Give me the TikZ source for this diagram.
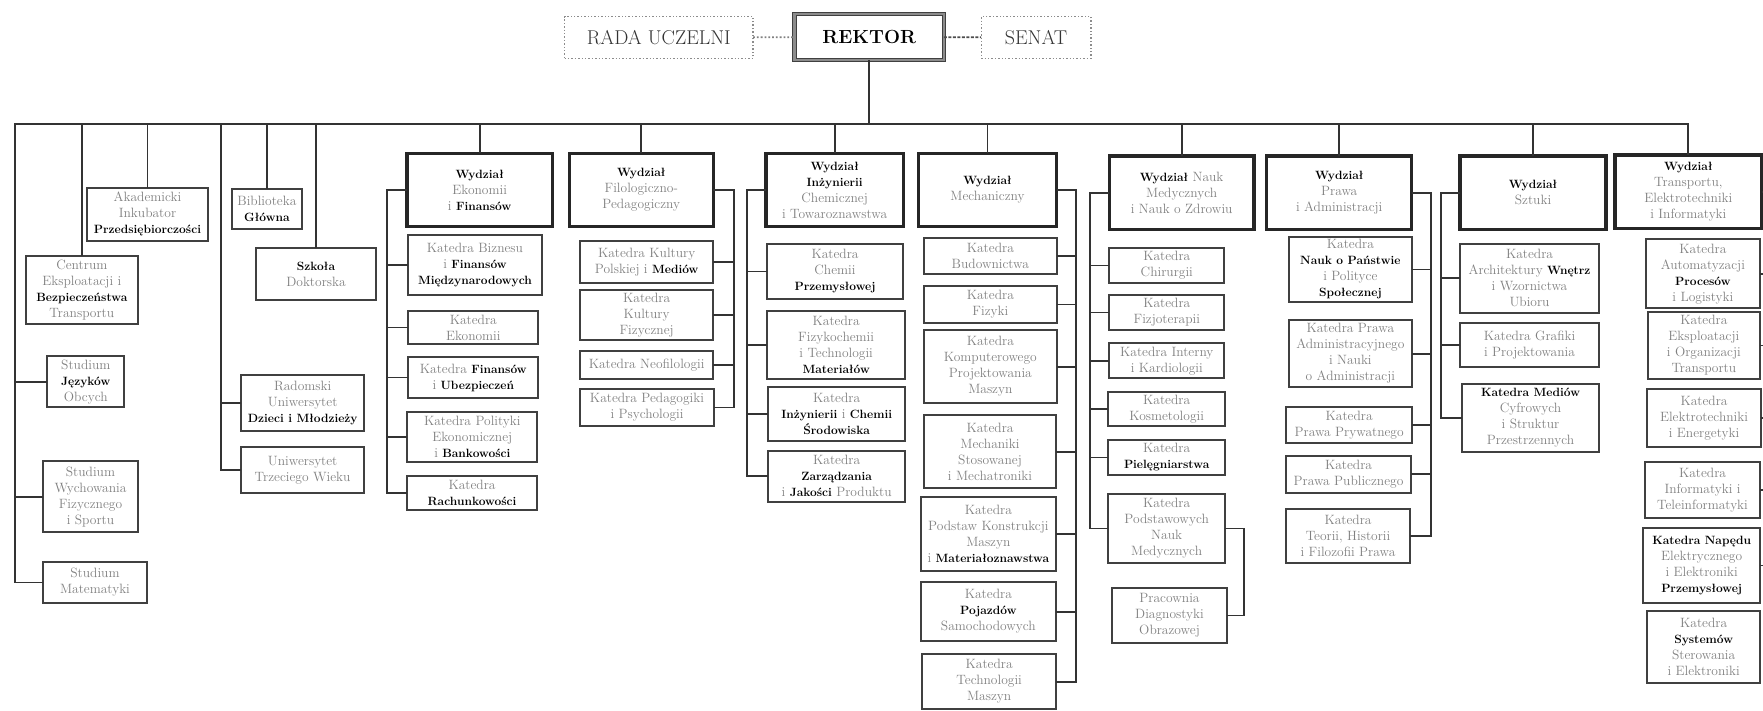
\documentclass[tikz,border=0pt]{standalone}
\usepackage{fontspec}
\usepackage{tikz}
\usepackage{xcolor}
\usetikzlibrary{math}

\newcommand{\bw}[1]{{\color{black}\fontsize{12}{16}\selectfont\bfseries #1}}
\newcommand{\orgbox}[7][kbox]{%
  \node[#1, minimum width={(#5-#3)*1pt}, minimum height={(#6-#4)*1pt}]
    (#2) at ({(#3+#5)/2},{(#4+#6)/2}) {#7};}

\tikzset{
  kbox/.style={draw=black!75, line width=2pt, align=center, inner sep=0pt, outer sep=0pt,
    text=black!50, font=\fontsize{13.5}{16}\selectfont},
  wbox/.style={kbox, draw=black!85, line width=3.2pt},
  topbox/.style={draw=black!45, dotted, line width=1.4pt, inner sep=0pt, outer sep=0pt,
    text=black!80, font=\fontsize{20}{24}\selectfont},
  rektorbox/.style={draw=black!75, double=black!45, double distance=2.4pt, line width=1pt,
    inner sep=0pt, outer sep=0pt, text=black, font=\fontsize{19}{24}\selectfont\bfseries},
  conn/.style={draw=black!80, line width=1.8pt},
}

\begin{document}
\begin{tikzpicture}[x=1pt,y=-1pt]

\tikzmath{
\busy = 124;
\busleft = 15;
\rspine = 221;
\ekspine = 387.3;
\fpspine = 734.3;
\icspine = 747.2;
\mspine = 1076;
\nmspine = 1090;
\paspine = 1431;
\szspine = 1440.7;
\trspine = 1768;
}

\useasboundingbox (0,0) rectangle (1763,711);
\clip (0,0) rectangle (1763,711);

\coordinate (busL) at (\busleft,\busy);
\coordinate (sr) at (\rspine,\busy);
\coordinate (sek) at (\ekspine,0);
\coordinate (sfp) at (\fpspine,0);
\coordinate (sic) at (\icspine,0);
\coordinate (sm) at (\mspine,0);
\coordinate (snm) at (\nmspine,0);
\coordinate (spa) at (\paspine,0);
\coordinate (ssz) at (\szspine,0);
\coordinate (str) at (\trspine,0);

% top
\orgbox[topbox]{rada}{564.5}{16.7}{753.1}{58.3}{RADA UCZELNI}
\orgbox[rektorbox]{rektor}{794.6}{14}{943.9}{60}{REKTOR}
\orgbox[topbox]{senat}{981.2}{16.7}{1091}{58.3}{SENAT}

\draw[conn, draw=black!50, dotted] (rada) -- (rektor);
\draw[conn, draw=black!70, dashed, dash pattern=on 3pt off 1.5pt] (rektor) -- (senat);
\draw[conn] (rektor.south) -- (rektor.south |- busL);

% units outside faculties
\orgbox{akad}{87}{188}{208}{240.7}{Akademicki\\Inkubator\\\bw{Przedsiębiorczości}}
\orgbox{cent}{26}{256}{137.7}{324}{Centrum\\Eksploatacji i\\\bw{Bezpieczeństwa}\\Transportu}
\orgbox{sjo}{47.3}{356}{124.3}{407.3}{Studium\\\bw{Języków}\\Obcych}
\orgbox{swf}{43.3}{461}{137.7}{532.3}{Studium\\Wychowania\\Fizycznego\\i Sportu}
\orgbox{smat}{43.3}{561.7}{146.7}{603.3}{Studium\\Matematyki}
\orgbox{bibl}{231.5}{189}{302.3}{229.3}{Biblioteka\\\bw{Główna}}
\orgbox{szkd}{256}{248.3}{376}{300}{\bw{Szkoła}\\Doktorska}
\orgbox{rudm}{241}{375}{364.3}{430.7}{Radomski\\Uniwersytet\\\bw{Dzieci i Młodzieży}}
\orgbox{utw}{241}{447.3}{364.3}{492.7}{Uniwersytet\\Trzeciego Wieku}

% Wydzial Ekonomii i Finansow
\orgbox[wbox]{wek}{407}{153.3}{552.3}{226.7}{\bw{Wydział}\\Ekonomii\\i \bw{Finansów}}
\orgbox{kbiz}{408.3}{235}{541.7}{295}{Katedra Biznesu\\i \bw{Finansów}\\\bw{Międzynarodowych}}
\orgbox{kekon}{408.3}{310.7}{538.3}{344.3}{Katedra\\Ekonomii}
\orgbox{kfin}{408.3}{356.7}{538.3}{398.3}{Katedra \bw{Finansów}\\i \bw{Ubezpieczeń}}
\orgbox{kpol}{407.3}{411.7}{537.3}{462.3}{Katedra Polityki\\Ekonomicznej\\i \bw{Bankowości}}
\orgbox{krach}{406.7}{475.7}{537.3}{510}{Katedra\\\bw{Rachunkowości}}

% Wydzial Filologiczno-Pedagogiczny
\orgbox[wbox]{wfp}{569.3}{153.3}{713.3}{226.7}{\bw{Wydział}\\Filologiczno-\\Pedagogiczny}
\orgbox{kkpm}{580}{240.7}{713.3}{282.7}{Katedra Kultury\\Polskiej i \bw{Mediów}}
\orgbox{kkf}{580}{290}{713.3}{340}{Katedra\\Kultury\\Fizycznej}
\orgbox{kneo}{580}{350.7}{713.3}{379.3}{Katedra Neofilologii}
\orgbox{kpp}{580}{389.3}{714}{425.7}{Katedra Pedagogiki\\i Psychologii}

% Wydzial Inzynierii Chemicznej i Towaroznawstwa
\orgbox[wbox]{wic}{766}{153.3}{903.3}{226.7}{\bw{Wydział}\\\bw{Inżynierii}\\Chemicznej\\i Towaroznawstwa}
\orgbox{kchp}{767.3}{244}{902.7}{299}{Katedra\\Chemii\\\bw{Przemysłowej}}
\orgbox{kftm}{767.3}{310.7}{905}{379.3}{Katedra\\Fizykochemii\\i Technologii\\\bw{Materiałów}}
\orgbox{kics}{768.3}{387.3}{905}{441}{Katedra\\\bw{Inżynierii} i \bw{Chemii}\\\bw{Środowiska}}
\orgbox{kzjp}{768.3}{451}{905}{501.7}{Katedra\\\bw{Zarządzania}\\i \bw{Jakości} Produktu}

% Wydzial Mechaniczny
\orgbox[wbox]{wm}{918.3}{153.3}{1056.7}{226.7}{\bw{Wydział}\\Mechaniczny}
\orgbox{kbud}{924}{238.3}{1056.7}{274}{Katedra\\Budownictwa}
\orgbox{kfiz}{924}{285.7}{1056.7}{323.3}{Katedra\\Fizyki}
\orgbox{kkpr}{924}{330}{1056.7}{403.3}{Katedra\\Komputerowego\\Projektowania\\Maszyn}
\orgbox{kmsm}{924}{415}{1056}{488.3}{Katedra\\Mechaniki\\Stosowanej\\i Mechatroniki}
\orgbox{kpkm}{920.7}{497.3}{1056}{570.7}{Katedra\\Podstaw Konstrukcji\\Maszyn\\i \bw{Materiałoznawstwa}}
\orgbox{kps}{920.7}{582.3}{1056}{641}{Katedra\\\bw{Pojazdów}\\Samochodowych}
\orgbox{ktm}{922.3}{654.3}{1056}{709}{Katedra\\Technologii\\Maszyn}

% Wydzial Nauk Medycznych i Nauk o Zdrowiu
\orgbox[wbox]{wnm}{1109.3}{156}{1254}{229.3}{\bw{Wydział} Nauk\\Medycznych\\i Nauk o Zdrowiu}
\orgbox{kchir}{1109.3}{248.3}{1224.3}{282.7}{Katedra\\Chirurgii}
\orgbox{kfizj}{1109.3}{295}{1224.3}{330}{Katedra\\Fizjoterapii}
\orgbox{kik}{1109.3}{343.3}{1224.3}{378.3}{Katedra Interny\\i Kardiologii}
\orgbox{kkos}{1108.3}{391.7}{1225}{425.7}{Katedra\\Kosmetologii}
\orgbox{kpiel}{1108.3}{440}{1225}{475}{Katedra\\\bw{Pielęgniarstwa}}
\orgbox{kpnm}{1108.3}{494.3}{1225}{562.7}{Katedra\\Podstawowych\\Nauk\\Medycznych}
\orgbox{pdo}{1111.7}{587.7}{1227.3}{643.3}{Pracownia\\Diagnostyki\\Obrazowej}

% Wydzial Prawa i Administracji
\orgbox[wbox]{wpa}{1266.7}{156}{1411.7}{229.3}{\bw{Wydział}\\Prawa\\i Administracji}
\orgbox{knp}{1289}{236.7}{1411.7}{302.3}{Katedra\\\bw{Nauk o Państwie}\\i Polityce\\\bw{Społecznej}}
\orgbox{kpa}{1289}{320}{1411.7}{387.3}{Katedra Prawa\\Administracyjnego\\i Nauki\\o Administracji}
\orgbox{kppr}{1286}{407.3}{1412.3}{442.7}{Katedra\\Prawa Prywatnego}
\orgbox{kppu}{1286}{456}{1411}{492.7}{Katedra\\Prawa Publicznego}
\orgbox{kthf}{1286}{509.3}{1410}{562.7}{Katedra\\Teorii, Historii\\i Filozofii Prawa}

% Wydzial Sztuki
\orgbox[wbox]{wsz}{1460}{156}{1606}{229.3}{\bw{Wydział}\\Sztuki}
\orgbox{kaw}{1460}{244}{1599}{312.7}{Katedra\\Architektury \bw{Wnętrz}\\i Wzornictwa\\Ubioru}
\orgbox{kgp}{1460}{323.3}{1599}{366.7}{Katedra Grafiki\\i Projektowania}
\orgbox{kmc}{1461.7}{384}{1599.3}{451.7}{\bw{Katedra Mediów}\\Cyfrowych\\i Struktur\\Przestrzennych}

% Wydzial Transportu, Elektrotechniki i Informatyki
\orgbox[wbox]{wtei}{1615}{155}{1761.7}{228.3}{\bw{Wydział}\\Transportu,\\Elektrotechniki\\i Informatyki}
\orgbox{kapl}{1645.7}{239.3}{1760}{308.3}{Katedra\\Automatyzacji\\\bw{Procesów}\\i Logistyki}
\orgbox{keot}{1647.7}{311.7}{1760}{379.3}{Katedra\\Eksploatacji\\i Organizacji\\Transportu}
\orgbox{kee}{1647.3}{389.3}{1760.7}{446.7}{Katedra\\Elektrotechniki\\i Energetyki}
\orgbox{kit}{1645}{461.7}{1760}{517.7}{Katedra\\Informatyki i\\Teleinformatyki}
\orgbox{kneep}{1643.3}{528.3}{1760}{602.7}{\bw{Katedra Napędu}\\Elektrycznego\\i Elektroniki\\\bw{Przemysłowej}}
\orgbox{ksse}{1647.3}{611}{1760}{683.3}{Katedra\\\bw{Systemów}\\Sterowania\\i Elektroniki}

% main bus
\draw[conn] (smat.west) -| (busL) -- (busL -| wtei.north) -- (wtei.north);
\foreach \n in {cent,akad,bibl,szkd,wek,wfp,wic,wm,wnm,wpa,wsz}
    \draw[conn] (\n.north) -- (\n.north |- busL);
\foreach \n in {sjo,swf}
    \draw[conn] (\n.west) -- (\n.west -| busL);

\draw[conn] (sr) |- (utw.west);
\draw[conn] (rudm.west) -- (rudm.west -| sr);

% spines of the faculties
\draw[conn] (wek.west) -| (sek |- krach.west) -- (krach.west);
\foreach \n in {kbiz,kekon,kfin,kpol}
    \draw[conn] (\n.west) -- (\n.west -| sek);

\draw[conn] (wfp.east) -| (sfp |- kpp.east) -- (kpp.east);
\foreach \n in {kkpm,kkf,kneo}
    \draw[conn] (\n.east) -- (\n.east -| sfp);

\draw[conn] (wic.west) -| (sic |- kzjp.west) -- (kzjp.west);
\foreach \n in {kchp,kftm,kics}
    \draw[conn] (\n.west) -- (\n.west -| sic);

\draw[conn] (wm.east) -| (sm |- ktm.east) -- (ktm.east);
\foreach \n in {kbud,kfiz,kkpr,kmsm,kpkm,kps}
    \draw[conn] (\n.east) -- (\n.east -| sm);

\draw[conn] (wnm.west) -| (snm |- kpnm.west) -- (kpnm.west);
\foreach \n in {kchir,kfizj,kik,kkos,kpiel}
    \draw[conn] (\n.west) -- (\n.west -| snm);
\draw[conn] (kpnm.east) -- ++(19,0) |- (pdo.east);

\draw[conn] (wpa.east) -| (spa |- kthf.east) -- (kthf.east);
\foreach \n in {knp,kpa,kppr,kppu}
    \draw[conn] (\n.east) -- (\n.east -| spa);

\draw[conn] (wsz.west) -| (ssz |- kmc.west) -- (kmc.west);
\foreach \n in {kaw,kgp}
    \draw[conn] (\n.west) -- (\n.west -| ssz);

\draw[conn] (wtei.east) -| (str |- kneep.east) -- (kneep.east);
\foreach \n in {kapl,keot,kee,kit}
    \draw[conn] (\n.east) -- (\n.east -| str);

\end{tikzpicture}
\end{document}
